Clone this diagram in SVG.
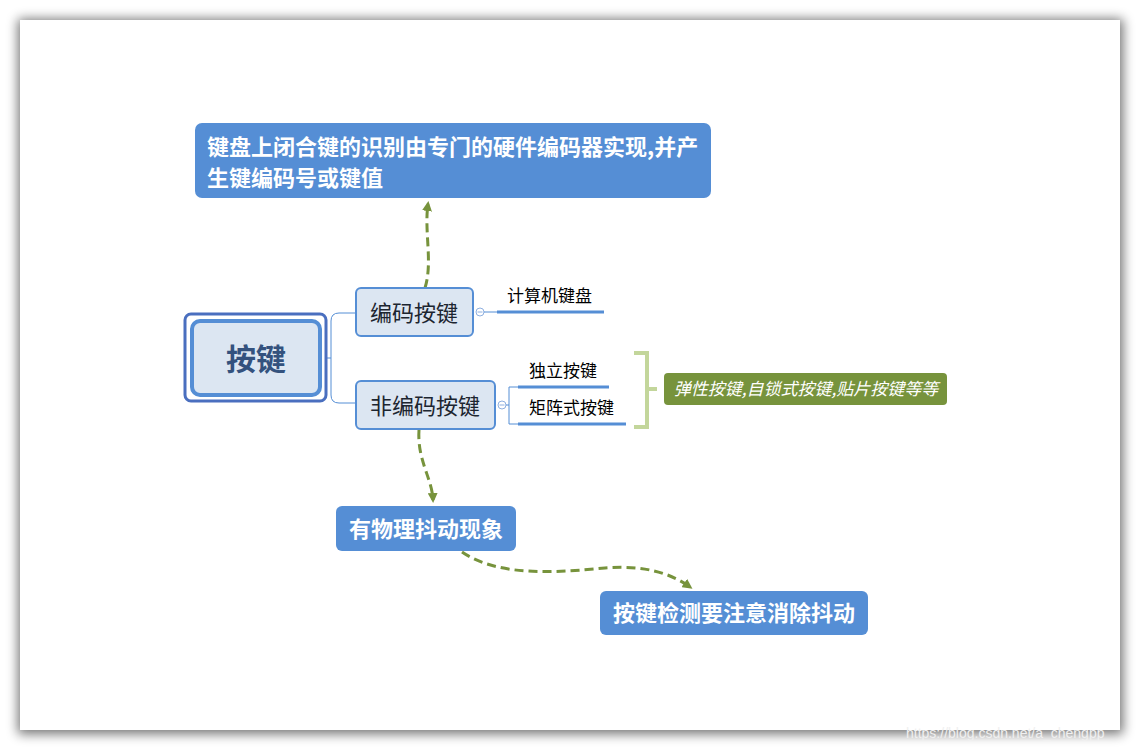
<svg xmlns="http://www.w3.org/2000/svg" width="1140" height="750" viewBox="0 0 1140 750">
<defs>
<filter id="sh" x="-10%" y="-10%" width="120%" height="120%"><feGaussianBlur stdDeviation="6"/></filter>
<marker id="ah" markerWidth="10" markerHeight="10" refX="7" refY="5" orient="auto" markerUnits="userSpaceOnUse" viewBox="0 0 10 10"><path d="M0,0 L10,5 L0,10 z" fill="#77933c"/></marker>
</defs>
<style>
text{font-family:"Noto Sans CJK SC","Microsoft YaHei",sans-serif}
.sub{fill:#dce6f2;stroke:#558ed5;stroke-width:2}
.blue{fill:#558ed5}
.wt{fill:#fff;font-weight:bold;font-size:22px}
.st{fill:#1c2530;font-size:22px}
.lt{fill:#000;font-size:17px}
.thin{fill:none;stroke:#558ed5;stroke-width:1}
.ul{stroke:#558ed5;stroke-width:3}
.dash{fill:none;stroke:#77933c;stroke-width:3;stroke-dasharray:9 5}
</style>
<rect width="1140" height="750" fill="#fff"/>
<rect x="18" y="19" width="1105" height="715" fill="#000" opacity="0.55" filter="url(#sh)"/>
<rect x="20" y="20" width="1100" height="710" fill="#fff"/>
<g id="connectors">
<path class="thin" d="M327,358 H331 M339,313 H356 M331,358 V321 Q331,313 339,313 M331,358 V395 Q331,403 339,403 H356"/>
<circle cx="480" cy="312" r="4" fill="#fff" stroke="#8fb0e0" stroke-width="1"/>
<path d="M477.5,312 H482.5" stroke="#8fb0e0" stroke-width="1"/>
<path class="thin" d="M484,312 H497"/>
<line class="ul" x1="497" y1="312" x2="604" y2="312"/>
<circle cx="502" cy="405" r="4" fill="#fff" stroke="#8fb0e0" stroke-width="1"/>
<path d="M499.5,405 H504.5" stroke="#8fb0e0" stroke-width="1"/>
<path class="thin" d="M506,405 H509 M509,387 V424 M509,387 H518 M509,424 H518"/>
<line class="ul" x1="518" y1="387" x2="609" y2="387"/>
<line class="ul" x1="518" y1="424" x2="626" y2="424"/>
<path d="M634,353 H647 V427 H634 M647,389 H657" fill="none" stroke="#c3d69b" stroke-width="4"/>
<path class="dash" d="M425,288 C433,262 424,232 428,204" marker-end="url(#ah)"/>
<path class="dash" d="M419,430 C417,460 432,478 433,500" marker-end="url(#ah)"/>
<path class="dash" d="M462,552 C500,578 560,572 605,568 C645,565 670,573 690,587" marker-end="url(#ah)"/>
</g>
<g id="root">
<rect x="185" y="314" width="141" height="87" rx="6" fill="#fff" stroke="#4a6fbf" stroke-width="3"/>
<rect x="192" y="321" width="128" height="74" rx="8" fill="#dce6f2" stroke="#558ed5" stroke-width="4"/>
<text x="256" y="370" font-size="30" font-weight="bold" fill="#34527e" text-anchor="middle">按键</text>
</g>
<g id="n-bianma">
<rect class="sub" x="356" y="288" width="117" height="48" rx="5"/>
<text class="st" x="414" y="321" text-anchor="middle">编码按键</text>
</g>
<g id="n-feibianma">
<rect class="sub" x="356" y="381" width="139" height="48" rx="5"/>
<text class="st" x="425" y="414" text-anchor="middle">非编码按键</text>
</g>
<g id="n-jisuanji"><text class="lt" x="507" y="302">计算机键盘</text></g>
<g id="n-duli"><text class="lt" x="529" y="377">独立按键</text></g>
<g id="n-juzhen"><text class="lt" x="529" y="414">矩阵式按键</text></g>
<g id="n-summary">
<rect x="664" y="373" width="283" height="32" rx="4" fill="#77933c"/>
<text x="806" y="395" font-size="17" font-style="italic" fill="#fff" text-anchor="middle">弹性按键,自锁式按键,贴片按键等等</text>
</g>
<g id="n-top">
<rect class="blue" x="195" y="123" width="516" height="75" rx="7"/>
<text class="wt" x="207" y="155">键盘上闭合键的识别由专门的硬件编码器实现,并产</text>
<text class="wt" x="207" y="186">生键编码号或键值</text>
</g>
<g id="n-doudong">
<rect class="blue" x="336" y="506" width="180" height="45" rx="6"/>
<text class="wt" x="426" y="537" text-anchor="middle">有物理抖动现象</text>
</g>
<g id="n-xiaochu">
<rect class="blue" x="600" y="591" width="268" height="44" rx="6"/>
<text class="wt" x="734" y="621" text-anchor="middle">按键检测要注意消除抖动</text>
</g>
<text x="906" y="738" font-size="14" fill="#f0f0f0" style="font-family:'Liberation Sans',sans-serif">https://blog.csdn.net/a_chengpp</text>
</svg>
